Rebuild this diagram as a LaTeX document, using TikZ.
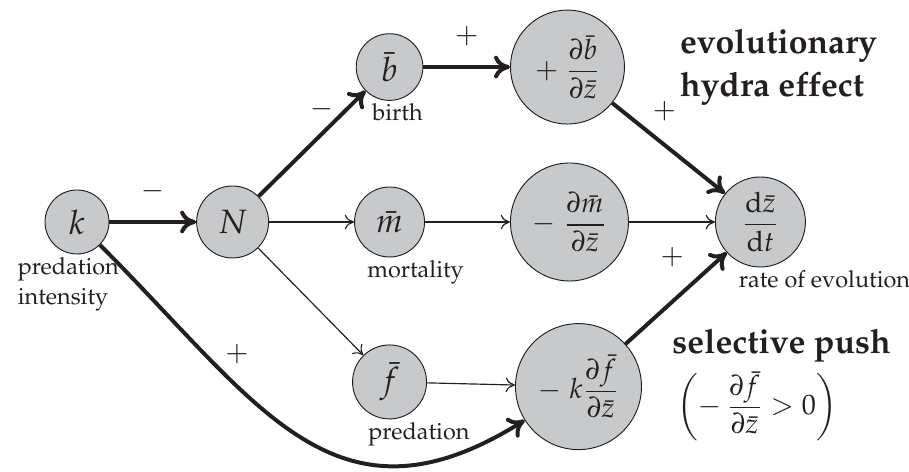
\documentclass[tikz,border=0pt]{standalone}
\usepackage[T1]{fontenc}
\usepackage{mathpazo}
\usetikzlibrary{positioning, arrows.meta}
\definecolor{NodeFill}{HTML}{C8C9CA}
\definecolor{InkA}{HTML}{231F20}
\tikzset{
  var/.style={circle, draw=InkA, line width=0.4pt, fill=NodeFill, inner sep=0pt, font=\Large, text=InkA},
  grad/.style={var, font=\large},
  lbl/.style={font=\normalsize, inner sep=1pt, text=InkA, align=left},
  head/.style={font=\Large\bfseries, inner sep=0pt, text=InkA, align=left},
  sgn/.style={font=\large, text=InkA, inner sep=1pt},
  thk/.style={-{Computer Modern Rightarrow[length=2.4mm, width=3.4mm]}, line width=1.7pt, draw=InkA},
  thn/.style={-{Computer Modern Rightarrow[length=1.4mm, width=2.2mm]}, line width=0.5pt, draw=InkA}
}
\begin{document}
\begin{tikzpicture}[node distance=1.3cm]
  \useasboundingbox (0,0) rectangle (13.635,7.08);
  \node[var, minimum size=0.96cm] (k) at (1.155,3.75) {$k$};
  \node[var, minimum size=1.08cm, right=1.30cm of k] (N) {$N$};
  \node[var, minimum size=1.05cm, right=1.275cm of N] (m) {$\bar m$};
  \node[grad, minimum size=1.77cm, right=1.275cm of m] (M) {$\displaystyle -\;\frac{\partial\bar m}{\partial\bar z}$};
  \node[grad, minimum size=1.35cm, right=1.29cm of M] (Z) {$\displaystyle \frac{\mathrm{d}\bar z}{\mathrm{d}t}$};
  \node[var, minimum size=1.0cm, above=1.285cm of m] (b) {$\bar b$};
  \node[grad, minimum size=1.71cm, right=1.30cm of b] (B) {$\displaystyle +\;\frac{\partial\bar b}{\partial\bar z}$};
  \node[var, minimum size=1.11cm, below=1.305cm of m] (f) {$\bar f$};
  \node[grad, minimum size=1.89cm, right=1.32cm of f, yshift=-0.07cm] (F) {$\displaystyle -\;k\frac{\partial\bar f}{\partial\bar z}$};

  % labels under the nodes
  \node[lbl, below=0pt of k, xshift=-0.13cm] (kl) {predation\\[1pt]intensity};
  \node[lbl, below=0pt of b, xshift=0.12cm] (bl) {birth};
  \node[lbl, below=0pt of m, xshift=0.39cm] (ml) {mortality};
  \node[lbl, below=0pt of f, xshift=0.44cm] (fl) {predation};
  \node[lbl, below=0pt of Z, xshift=0.96cm] (zl) {rate of evolution};

  \node[head, right=0.82cm of B] (hydra) {evolutionary\\hydra effect};
  \node[head, anchor=north west] (push) at (10.08,2.15) {selective push\\[3pt]
    \hspace*{2pt}{\normalfont\large$\displaystyle\left(-\,\frac{\partial\bar f}{\partial\bar z}>0\right)$}};

  \draw[thk] (k) -- node[sgn, above=7pt]{$-$} (N);
  \draw[thk] (N) -- node[sgn, xshift=0.15cm, yshift=0.52cm]{$-$} (b);
  \draw[thk] (b) -- node[sgn, above=7pt]{$+$} (B);
  \draw[thk] (B) -- node[sgn, pos=0.3, above right=2pt and 1pt]{$+$} (Z);
  \draw[thk] (F) -- node[sgn, pos=0.62, above left=7pt and 0pt]{$+$} (Z);
  \draw[thk] (k) to[out=-45, in=-148, looseness=1.25] node[sgn, pos=0.3, above right=3pt and -2pt]{$+$} (F);
  \draw[thn] (N) -- (m);
  \draw[thn] (m) -- (M);
  \draw[thn] (M) -- (Z);
  \draw[thn] (N) -- (f);
  \draw[thn] (f) -- (F);
\end{tikzpicture}
\end{document}
